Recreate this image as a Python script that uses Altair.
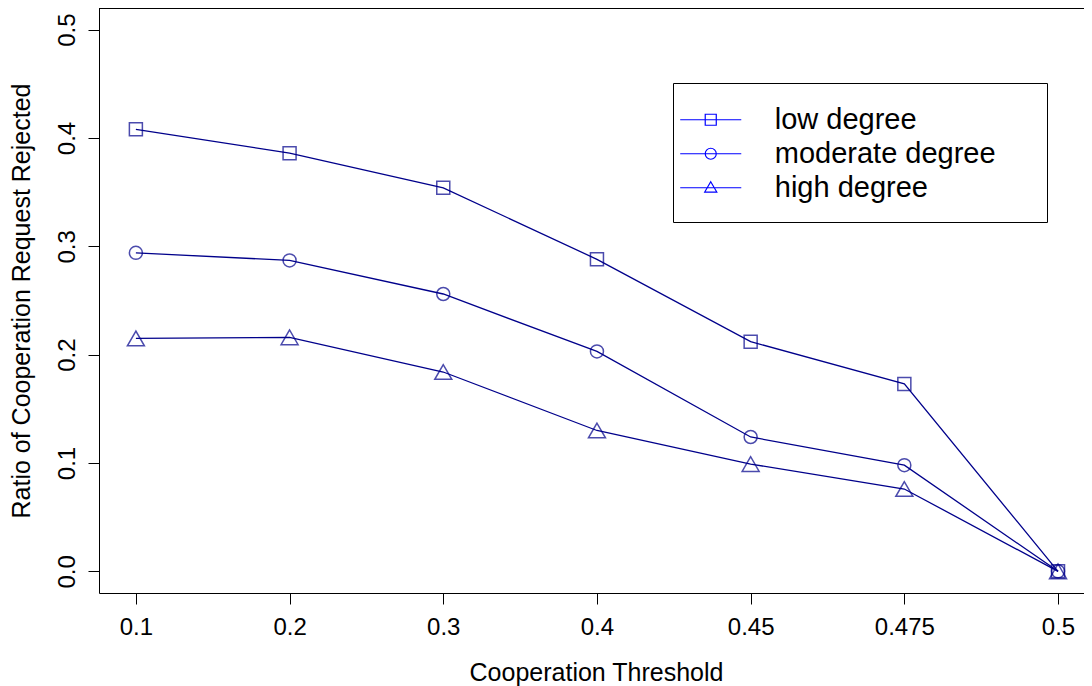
import altair as alt
import pandas as pd

thresholds = ["0.1", "0.2", "0.3", "0.4", "0.45", "0.475", "0.5"]
positions = [1, 2, 3, 4, 5, 6, 7]
series_names = ["low degree", "moderate degree", "high degree"]
low = [0.408, 0.386, 0.354, 0.288, 0.212, 0.173, 0.0]
moderate = [0.294, 0.287, 0.256, 0.203, 0.124, 0.098, 0.0]
high = [0.215, 0.216, 0.184, 0.130, 0.099, 0.076, 0.0]
y_ticks = [0.0, 0.1, 0.2, 0.3, 0.4, 0.5]

rows = []
for name, vals in zip(series_names, [low, moderate, high]):
    for p, t, v in zip(positions, thresholds, vals):
        rows.append({"series": name, "pos": p, "threshold": t, "ratio": v})
df = pd.DataFrame(rows)

W, H = 985, 585
FONT = "Liberation Sans"
NAVY = "#00008B"

label_js = "[" + ",".join("'%s'" % t for t in thresholds) + "]"

x_enc = alt.X(
    "pos:Q",
    scale=alt.Scale(domain=[0.76, 7.169], nice=False, zero=False),
    axis=alt.Axis(
        values=positions,
        labelExpr=label_js + "[datum.value - 1]",
        title="Cooperation Threshold",
        titleX=497,
        titleY=87,
        titleBaseline="alphabetic",
        titleAlign="center",
        labelBaseline="alphabetic",
        labelPadding=30,
        labelAlign="center",
    ),
)
y_enc = alt.Y(
    "ratio:Q",
    scale=alt.Scale(domain=[-0.02, 0.52], nice=False, zero=False),
    axis=alt.Axis(
        values=y_ticks,
        format=".1f",
        title="Ratio of Cooperation Request Rejected",
        titleAngle=270,
        titleX=-70,
        titleY=H / 2,
        titleBaseline="alphabetic",
        titleAlign="center",
        labelAngle=270,
        labelAlign="center",
        labelBaseline="alphabetic",
        labelPadding=14,
    ),
)

base = alt.Chart(df)

lines = base.mark_line(color=NAVY, strokeWidth=1.3).encode(
    x=x_enc, y=y_enc, detail="series:N"
)

points = base.mark_point(filled=False, color=NAVY, strokeWidth=1.5).encode(
    x=x_enc,
    y=y_enc,
    shape=alt.Shape(
        "series:N",
        scale=alt.Scale(domain=series_names, range=["square", "circle", "triangle-up"]),
        legend=None,
    ),
    size=alt.condition("datum.series == 'high degree'", alt.value(289), alt.value(169)),
)

legend_paths = [
    "M-1.77,0H1.77M-0.32,-0.32H0.32V0.32H-0.32Z",
    "M-1.77,0H1.77M-0.32,0A0.32,0.32 0 1,0 0.32,0A0.32,0.32 0 1,0 -0.32,0Z",
    "M-1.77,0H1.77M0,-0.35L0.35,0.25L-0.35,0.25Z",
]

legend_layer = base.mark_point(filled=False, opacity=0, size=1190).encode(
    x=x_enc,
    y=y_enc,
    shape=alt.Shape(
        "series:N",
        scale=alt.Scale(domain=series_names, range=legend_paths),
        legend=alt.Legend(
            title=None,
            orient="none",
            legendX=574,
            legendY=75,
            padding=18.75,
            strokeColor="black",
            fillColor="white",
            symbolSize=1190,
            symbolStrokeColor="blue",
            symbolFillColor="transparent",
            symbolStrokeWidth=1.2,
            symbolOpacity=1,
            symbolOffset=1,
            labelOffset=46,
            labelFont=FONT,
            labelFontSize=29,
            labelColor="black",
            labelLimit=0,
            rowPadding=1,
            labelExpr="datum.label + '\u00a0\u00a0\u00a0\u00a0\u200b'",
        ),
    ),
)

top_border = alt.Chart(df).mark_rule(color="black", strokeWidth=1).encode(
    x=alt.value(0), x2=alt.value(W), y=alt.value(0)
)

chart = (
    alt.layer(lines, points, legend_layer, top_border)
    .resolve_scale(shape="independent")
    .properties(
        width=W,
        height=H,
        padding={"left": 91, "top": 0, "right": 0, "bottom": 93},
        autosize=alt.AutoSizeParams(type="none"),
    )
    .configure_view(stroke=None)
    .configure_axis(
        grid=False,
        labelFont=FONT,
        labelFontSize=24,
        labelColor="black",
        titleFont=FONT,
        titleFontSize=25,
        titleFontWeight="normal",
        titleColor="black",
        domainColor="black",
        domainWidth=1,
        tickColor="black",
        tickWidth=1,
        tickSize=11,
    )
)

chart.save("out.html", embed_options={"renderer": "svg", "actions": False})
